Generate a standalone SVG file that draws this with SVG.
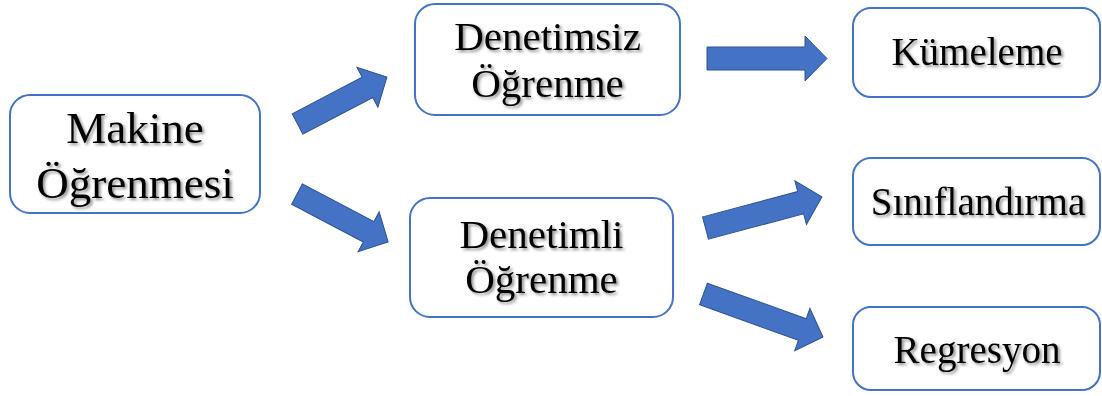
<svg xmlns="http://www.w3.org/2000/svg" width="1102" height="396" viewBox="0 0 1102 396">
  <style>
    .box { fill: #ffffff; stroke: #4472C4; stroke-width: 2; }
    .lbl { font-family: "Liberation Serif", "Times New Roman", serif; fill: #000000; text-anchor: middle; filter: url(#shadow); }
    .big { font-size: 45px; }
    .mid { font-size: 41px; }
    .sm { font-size: 39px; }
    .arrow { fill: #4472C4; stroke: #2F528F; stroke-width: 1; }
  </style>
  <defs>
    <filter id="shadow" x="-10%" y="-20%" width="130%" height="150%">
      <feDropShadow dx="2" dy="2" stdDeviation="1.5" flood-color="#000000" flood-opacity="0.45"/>
    </filter>
  </defs>
  <rect width="1102" height="396" fill="#ffffff"/>

  <g id="connectors">
    <!-- Makine Öğrenmesi -> Denetimsiz Öğrenme -->
    <polygon class="arrow" transform="translate(297.5,124) rotate(-27.7)" points="0,-11.5 79,-11.5 79,-22.5 101,0 79,22.5 79,11.5 0,11.5"/>
    <!-- Makine Öğrenmesi -> Denetimli Öğrenme -->
    <polygon class="arrow" transform="translate(297,194) rotate(27.8)" points="0,-11.5 81,-11.5 81,-22.5 103,0 81,22.5 81,11.5 0,11.5"/>
    <!-- Denetimsiz Öğrenme -> Kümeleme -->
    <polygon class="arrow" transform="translate(707,58.5)" points="0,-11.5 98,-11.5 98,-22.5 120,0 98,22.5 98,11.5 0,11.5"/>
    <!-- Denetimli Öğrenme -> Sınıflandırma -->
    <polygon class="arrow" transform="translate(705.5,228) rotate(-14.9)" points="0,-11.5 98.5,-11.5 98.5,-22.5 120.5,0 98.5,22.5 98.5,11.5 0,11.5"/>
    <!-- Denetimli Öğrenme -> Regresyon -->
    <polygon class="arrow" transform="translate(703.5,294) rotate(19.8)" points="0,-11.5 105,-11.5 105,-22.5 127,0 105,22.5 105,11.5 0,11.5"/>
  </g>

  <g id="makine-ogrenmesi">
    <rect class="box" x="10" y="95" width="250" height="118" rx="20"/>
    <text class="lbl big" x="135" y="143">Makine</text>
    <text class="lbl big" x="135" y="198">Öğrenmesi</text>
  </g>

  <g id="denetimsiz-ogrenme">
    <rect class="box" x="415" y="4" width="265" height="111" rx="20"/>
    <text class="lbl mid" x="547.5" y="50">Denetimsiz</text>
    <text class="lbl mid" x="547.5" y="97">Öğrenme</text>
  </g>

  <g id="denetimli-ogrenme">
    <rect class="box" x="410" y="198" width="263" height="119" rx="20"/>
    <text class="lbl mid" x="541.5" y="248">Denetimli</text>
    <text class="lbl mid" x="541.5" y="293">Öğrenme</text>
  </g>

  <g id="kumeleme">
    <rect class="box" x="853" y="8" width="247" height="89" rx="18"/>
    <text class="lbl sm" x="977" y="65">Kümeleme</text>
  </g>

  <g id="siniflandirma">
    <rect class="box" x="853" y="158" width="247" height="87" rx="18"/>
    <text class="lbl sm" x="978" y="215">Sınıflandırma</text>
  </g>

  <g id="regresyon">
    <rect class="box" x="853" y="307" width="247" height="83" rx="18"/>
    <text class="lbl sm" x="977" y="363">Regresyon</text>
  </g>
</svg>
